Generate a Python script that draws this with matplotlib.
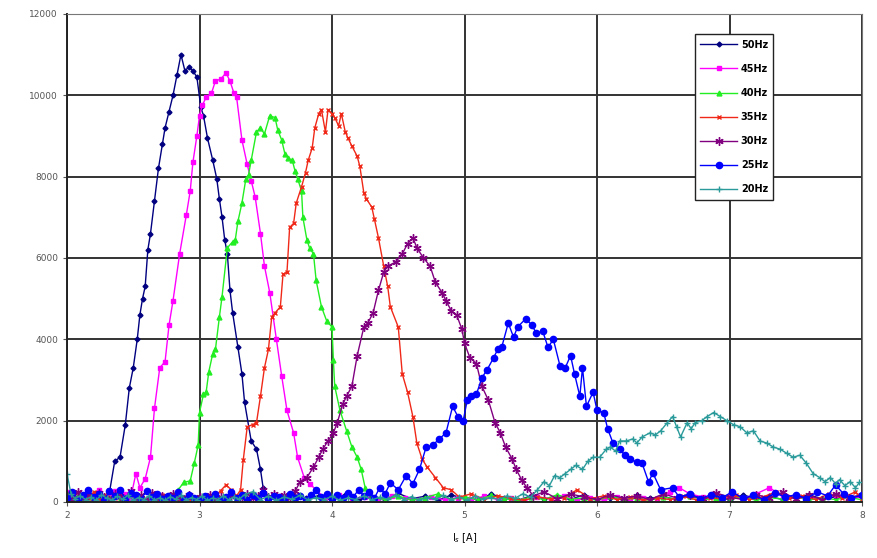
import matplotlib.pyplot as plt

# ==========================================
# data (x = current [A], y = counts)
# ==========================================
labels = ['50Hz', '45Hz', '40Hz', '35Hz', '30Hz', '25Hz', '20Hz']
colors = ['#000080', '#FF00FF', '#22EE22', '#F02818', '#800080', '#0000FF', '#2A9A9A']

pts_50 = [(2.00, 150), (2.04, 60), (2.08, 220), (2.12, 110), (2.16, 260), (2.20, 90), (2.24, 180),
          (2.28, 70), (2.32, 230), (2.36, 1000), (2.40, 1100), (2.44, 1900), (2.47, 2800), (2.50, 3300),
          (2.53, 4000), (2.55, 4600), (2.57, 5000), (2.59, 5300), (2.61, 6200), (2.63, 6600), (2.66, 7400),
          (2.69, 8200), (2.72, 8800), (2.74, 9200), (2.77, 9600), (2.80, 10000), (2.83, 10500),
          (2.86, 11000), (2.89, 10600), (2.92, 10700), (2.95, 10600), (2.98, 10450), (3.01, 9700),
          (3.03, 9500), (3.06, 8950), (3.10, 8400), (3.13, 7950), (3.15, 7450), (3.17, 7000),
          (3.19, 6450), (3.21, 6100), (3.23, 5200), (3.25, 4650), (3.29, 3800), (3.32, 3150),
          (3.34, 2450), (3.39, 1500), (3.43, 1300), (3.46, 800), (3.48, 350), (3.52, 120), (3.60, 60),
          (3.70, 200), (3.80, 90), (3.90, 150), (4.00, 40), (4.10, 180), (4.20, 70), (4.30, 130),
          (4.40, 60), (4.50, 210), (4.60, 80), (4.70, 140), (4.80, 50), (4.90, 170), (5.00, 90),
          (5.10, 60), (5.20, 190), (5.30, 100), (5.40, 40), (5.50, 150), (5.60, 80), (5.70, 120),
          (5.80, 60), (5.90, 180), (6.00, 70), (6.10, 110), (6.20, 50), (6.30, 160), (6.40, 90),
          (6.50, 130), (6.60, 60), (6.70, 200), (6.80, 80), (6.90, 120), (7.00, 50), (7.10, 170),
          (7.20, 90), (7.30, 140), (7.40, 60), (7.50, 110), (7.60, 180), (7.70, 70), (7.80, 130),
          (7.90, 90), (8.00, 150)]

pts_45 = [(2.00, 250), (2.04, 100), (2.08, 180), (2.12, 60), (2.16, 220), (2.20, 130), (2.24, 300),
          (2.28, 80), (2.32, 170), (2.36, 260), (2.40, 120), (2.44, 200), (2.48, 90), (2.52, 700),
          (2.55, 350), (2.59, 570), (2.63, 1100), (2.66, 2300), (2.70, 3300), (2.74, 3450), (2.77, 4350),
          (2.80, 4950), (2.85, 6100), (2.90, 7050), (2.93, 7650), (2.95, 8350), (2.98, 9000),
          (3.00, 9500), (3.02, 9750), (3.05, 9950), (3.09, 10050), (3.12, 10350), (3.16, 10400),
          (3.20, 10550), (3.23, 10350), (3.26, 10050), (3.28, 9950), (3.32, 8900), (3.36, 8300),
          (3.39, 7900), (3.42, 7500), (3.46, 6600), (3.49, 5800), (3.53, 5150), (3.58, 4000),
          (3.62, 3100), (3.66, 2250), (3.71, 1700), (3.74, 1100), (3.79, 600), (3.83, 450), (3.88, 300),
          (3.95, 80), (4.05, 160), (4.15, 60), (4.25, 120), (4.35, 40), (4.45, 150), (4.55, 90),
          (4.65, 60), (4.75, 130), (4.85, 50), (4.95, 110), (5.05, 70), (5.15, 140), (5.25, 60),
          (5.35, 100), (5.45, 40), (5.55, 120), (5.65, 80), (5.75, 150), (5.85, 60), (5.95, 110),
          (6.05, 40), (6.15, 130), (6.25, 80), (6.35, 100), (6.45, 60), (6.55, 250), (6.62, 350),
          (6.70, 200), (6.80, 120), (6.90, 60), (7.00, 140), (7.10, 80), (7.20, 200), (7.30, 350),
          (7.40, 150), (7.50, 90), (7.60, 130), (7.70, 60), (7.80, 170), (7.90, 80), (8.00, 120)]

pts_40 = [(2.00, 200), (2.04, 80), (2.08, 150), (2.12, 40), (2.16, 120), (2.20, 220), (2.24, 60),
          (2.28, 140), (2.32, 90), (2.36, 180), (2.40, 50), (2.44, 110), (2.48, 200), (2.52, 70),
          (2.56, 130), (2.60, 60), (2.64, 160), (2.68, 90), (2.72, 140), (2.76, 60), (2.80, 180),
          (2.84, 300), (2.88, 480), (2.93, 520), (2.96, 950), (2.99, 1400), (3.00, 2200), (3.03, 2650),
          (3.05, 2700), (3.07, 3200), (3.10, 3650), (3.12, 3750), (3.15, 4550), (3.17, 5050),
          (3.21, 6250), (3.25, 6400), (3.27, 6450), (3.29, 6900), (3.32, 7350), (3.35, 7950),
          (3.37, 8050), (3.39, 8400), (3.43, 9100), (3.46, 9200), (3.49, 9050), (3.53, 9500),
          (3.57, 9450), (3.59, 9150), (3.62, 8900), (3.645, 8550), (3.67, 8450), (3.70, 8400),
          (3.72, 8150), (3.74, 7950), (3.77, 7650), (3.78, 7000), (3.81, 6450), (3.83, 6250),
          (3.86, 6100), (3.88, 5450), (3.92, 4800), (3.96, 4450), (4.00, 4300), (4.01, 3500),
          (4.02, 2850), (4.06, 2250), (4.11, 1750), (4.15, 1350), (4.19, 1100), (4.22, 800),
          (4.25, 350), (4.30, 120), (4.40, 60), (4.50, 150), (4.60, 40), (4.70, 100), (4.80, 200),
          (4.90, 60), (5.00, 130), (5.10, 50), (5.20, 160), (5.30, 80), (5.40, 40), (5.50, 120),
          (5.60, 60), (5.70, 180), (5.80, 70), (5.90, 100), (6.00, 40), (6.10, 140), (6.20, 60),
          (6.30, 90), (6.40, 40), (6.50, 120), (6.60, 70), (6.70, 150), (6.80, 50), (6.90, 100),
          (7.00, 60), (7.10, 130), (7.20, 40), (7.30, 110), (7.40, 70), (7.50, 140), (7.60, 50),
          (7.70, 100), (7.80, 60), (7.90, 120), (8.00, 50)]

pts_35 = [(2.00, 120), (2.04, 200), (2.08, 60), (2.12, 150), (2.16, 90), (2.20, 240), (2.24, 70),
          (2.28, 130), (2.32, 300), (2.36, 100), (2.40, 180), (2.44, 60), (2.48, 220), (2.52, 90),
          (2.56, 150), (2.60, 50), (2.64, 120), (2.68, 80), (2.72, 160), (2.76, 60), (2.80, 110),
          (2.84, 40), (2.88, 130), (2.92, 70), (2.96, 100), (3.00, 50), (3.04, 120), (3.08, 60),
          (3.12, 150), (3.16, 280), (3.20, 420), (3.24, 300), (3.28, 150), (3.31, 300), (3.33, 1030),
          (3.36, 1850), (3.40, 1900), (3.43, 1950), (3.46, 2600), (3.49, 3300), (3.52, 3750),
          (3.545, 4550), (3.57, 4650), (3.61, 4800), (3.63, 5600), (3.66, 5650), (3.68, 6750),
          (3.71, 6850), (3.73, 7350), (3.77, 7750), (3.80, 8100), (3.82, 8400), (3.85, 8700),
          (3.87, 9200), (3.90, 9550), (3.92, 9650), (3.95, 9100), (3.97, 9650), (4.00, 9550),
          (4.02, 9450), (4.05, 9250), (4.07, 9550), (4.10, 9100), (4.12, 8950), (4.15, 8750),
          (4.19, 8500), (4.21, 8250), (4.24, 7600), (4.26, 7450), (4.30, 7250), (4.32, 6950),
          (4.35, 6500), (4.39, 5800), (4.42, 5300), (4.44, 4800), (4.50, 4300), (4.53, 3150),
          (4.57, 2700), (4.61, 2100), (4.64, 1450), (4.68, 1050), (4.72, 850), (4.78, 600),
          (4.84, 350), (4.90, 300), (4.96, 120), (5.05, 200), (5.15, 60), (5.25, 150), (5.35, 90),
          (5.45, 40), (5.55, 130), (5.65, 70), (5.75, 110), (5.85, 300), (5.95, 80), (6.05, 150),
          (6.15, 60), (6.25, 120), (6.35, 40), (6.45, 100), (6.55, 60), (6.65, 140), (6.75, 50),
          (6.85, 110), (6.95, 70), (7.05, 160), (7.15, 60), (7.25, 120), (7.35, 250), (7.45, 90),
          (7.55, 150), (7.65, 60), (7.75, 200), (7.85, 100), (7.95, 250), (8.00, 80)]

pts_30 = [(2.00, 180), (2.04, 60), (2.08, 250), (2.12, 100), (2.16, 170), (2.20, 80), (2.24, 220),
          (2.28, 120), (2.32, 60), (2.36, 200), (2.40, 140), (2.44, 80), (2.48, 260), (2.52, 100),
          (2.56, 170), (2.60, 50), (2.64, 210), (2.68, 90), (2.72, 150), (2.76, 60), (2.80, 190),
          (2.84, 100), (2.88, 70), (2.92, 160), (2.96, 40), (3.00, 120), (3.04, 80), (3.08, 170),
          (3.12, 60), (3.16, 130), (3.20, 90), (3.24, 150), (3.28, 60), (3.32, 110), (3.36, 200),
          (3.40, 90), (3.44, 150), (3.48, 300), (3.52, 120), (3.56, 200), (3.60, 80), (3.64, 160),
          (3.68, 100), (3.72, 260), (3.76, 500), (3.81, 600), (3.86, 860), (3.90, 1100), (3.93, 1300),
          (3.97, 1500), (4.01, 1700), (4.04, 1950), (4.08, 2400), (4.11, 2600), (4.15, 2850),
          (4.19, 3600), (4.24, 4300), (4.27, 4400), (4.31, 4650), (4.35, 5200), (4.39, 5650),
          (4.42, 5800), (4.48, 5900), (4.53, 6100), (4.57, 6350), (4.61, 6500), (4.64, 6250),
          (4.69, 6000), (4.74, 5800), (4.78, 5400), (4.83, 5150), (4.86, 4950), (4.90, 4700),
          (4.94, 4600), (4.98, 4250), (5.00, 3900), (5.04, 3550), (5.09, 3400), (5.13, 2850),
          (5.18, 2500), (5.23, 1950), (5.27, 1700), (5.31, 1350), (5.36, 1050), (5.39, 800),
          (5.43, 550), (5.47, 350), (5.52, 150), (5.60, 250), (5.70, 80), (5.80, 200), (5.90, 120),
          (6.00, 60), (6.10, 180), (6.20, 90), (6.30, 150), (6.40, 60), (6.50, 200), (6.60, 100),
          (6.70, 160), (6.80, 70), (6.90, 220), (7.00, 120), (7.10, 60), (7.20, 180), (7.30, 100),
          (7.40, 240), (7.50, 80), (7.60, 160), (7.70, 60), (7.80, 200), (7.90, 110), (8.00, 180)]

pts_25 = [(2.00, 100), (2.04, 250), (2.08, 60), (2.12, 180), (2.16, 300), (2.20, 120), (2.24, 200),
          (2.28, 60), (2.32, 260), (2.36, 140), (2.40, 300), (2.44, 80), (2.48, 220), (2.52, 160),
          (2.56, 60), (2.60, 280), (2.64, 120), (2.68, 200), (2.72, 70), (2.76, 150), (2.80, 100),
          (2.84, 240), (2.88, 60), (2.92, 170), (2.96, 90), (3.00, 40), (3.04, 140), (3.08, 80),
          (3.12, 200), (3.16, 60), (3.20, 120), (3.24, 250), (3.28, 90), (3.32, 160), (3.36, 60),
          (3.40, 180), (3.44, 100), (3.48, 220), (3.52, 70), (3.56, 150), (3.60, 120), (3.64, 60),
          (3.68, 200), (3.72, 100), (3.76, 140), (3.80, 60), (3.84, 170), (3.88, 300), (3.92, 120),
          (3.96, 200), (4.00, 80), (4.04, 160), (4.08, 90), (4.12, 220), (4.16, 120), (4.20, 300),
          (4.24, 150), (4.28, 250), (4.32, 100), (4.36, 350), (4.40, 200), (4.44, 470), (4.50, 300),
          (4.56, 650), (4.61, 450), (4.66, 800), (4.71, 1350), (4.76, 1400), (4.81, 1550),
          (4.86, 1700), (4.91, 2350), (4.95, 2100), (4.99, 2000), (5.02, 2500), (5.05, 2600),
          (5.09, 2650), (5.13, 3050), (5.17, 3250), (5.22, 3550), (5.25, 3750), (5.28, 3800),
          (5.33, 4400), (5.37, 4050), (5.40, 4300), (5.46, 4500), (5.51, 4350), (5.54, 4150),
          (5.59, 4200), (5.63, 3800), (5.67, 4000), (5.72, 3350), (5.76, 3300), (5.80, 3600),
          (5.83, 3150), (5.87, 2600), (5.89, 3300), (5.92, 2350), (5.97, 2700), (6.00, 2250),
          (6.05, 2200), (6.08, 1800), (6.12, 1450), (6.17, 1300), (6.21, 1150), (6.25, 1050),
          (6.30, 980), (6.34, 950), (6.39, 480), (6.42, 720), (6.48, 300), (6.57, 350), (6.62, 120),
          (6.70, 200), (6.78, 80), (6.86, 180), (6.94, 100), (7.02, 250), (7.10, 90), (7.18, 160),
          (7.26, 60), (7.34, 220), (7.42, 120), (7.50, 180), (7.58, 80), (7.66, 250), (7.74, 150),
          (7.80, 420), (7.86, 200), (7.92, 100), (8.00, 160)]

pts_20 = [(2.00, 700), (2.03, 200), (2.06, 80), (2.10, 150), (2.14, 60), (2.18, 120), (2.22, 40),
          (2.26, 180), (2.30, 90), (2.34, 50), (2.38, 140), (2.42, 70), (2.46, 160), (2.50, 40),
          (2.54, 110), (2.58, 60), (2.62, 150), (2.66, 50), (2.70, 100), (2.74, 40), (2.78, 130),
          (2.82, 70), (2.86, 160), (2.90, 50), (2.94, 110), (2.98, 60), (3.02, 140), (3.06, 40),
          (3.10, 100), (3.14, 60), (3.18, 150), (3.22, 50), (3.26, 120), (3.30, 70), (3.34, 180),
          (3.40, 250), (3.46, 60), (3.52, 140), (3.58, 40), (3.64, 120), (3.70, 70), (3.76, 160),
          (3.82, 50), (3.88, 110), (3.94, 60), (4.00, 140), (4.06, 40), (4.12, 100), (4.18, 60),
          (4.24, 150), (4.30, 50), (4.36, 120), (4.42, 70), (4.48, 180), (4.54, 60), (4.60, 130),
          (4.66, 50), (4.72, 110), (4.78, 70), (4.84, 160), (4.90, 60), (4.96, 120), (5.02, 40),
          (5.08, 140), (5.14, 70), (5.20, 110), (5.26, 60), (5.32, 150), (5.38, 90), (5.44, 200),
          (5.50, 120), (5.55, 300), (5.60, 500), (5.64, 400), (5.68, 650), (5.72, 600), (5.76, 700),
          (5.80, 800), (5.84, 900), (5.89, 800), (5.93, 1000), (5.97, 1100), (6.02, 1100),
          (6.07, 1300), (6.10, 1350), (6.14, 1250), (6.17, 1500), (6.22, 1500), (6.27, 1550),
          (6.30, 1450), (6.34, 1600), (6.40, 1700), (6.44, 1650), (6.48, 1750), (6.53, 1950),
          (6.57, 2100), (6.60, 1850), (6.63, 1600), (6.68, 1950), (6.71, 1800), (6.74, 1950),
          (6.79, 2000), (6.83, 2100), (6.88, 2200), (6.93, 2100), (6.98, 2000), (7.03, 1900),
          (7.08, 1850), (7.13, 1700), (7.18, 1750), (7.23, 1500), (7.28, 1450), (7.33, 1350),
          (7.38, 1300), (7.43, 1200), (7.48, 1100), (7.53, 1150), (7.58, 950), (7.63, 700),
          (7.68, 600), (7.72, 500), (7.76, 600), (7.80, 450), (7.83, 550), (7.87, 400), (7.91, 500),
          (7.95, 350), (7.98, 480)]

series = [pts_50, pts_45, pts_40, pts_35, pts_30, pts_25, pts_20]
# Excel default marker order: diamond, square, triangle, x, star, circle, plus
markers = ['D', 's', '^', 'x', (6, 2, 0), 'o', '+']
msizes = [2.5, 2.5, 3.5, 3, 6, 4.5, 5]

x_ticks = [2, 3, 4, 5, 6, 7, 8]
y_ticks = [0, 2000, 4000, 6000, 8000, 10000, 12000]

# ==========================================
# plot
# ==========================================
fig = plt.figure(figsize=(8.77, 5.58), dpi=100)
ax = fig.add_axes([0.0764, 0.1004, 0.9066, 0.8746])

for pts, lab, col, mk, ms in zip(series, labels, colors, markers, msizes):
    xs = [p[0] for p in pts]
    ys = [p[1] for p in pts]
    ax.plot(xs, ys, color=col, marker=mk, markersize=ms, linewidth=1.0,
            markeredgewidth=1.0, label=lab)

ax.set_xlim(2, 8)
ax.set_ylim(0, 12000)
ax.set_xticks(x_ticks)
ax.set_yticks(y_ticks)
ax.tick_params(labelsize=6.5, colors='#555555', length=3)
ax.grid(True, color='#333333', linewidth=1.4)
ax.set_axisbelow(True)
for s in ['top', 'right']:
    ax.spines[s].set_color('#777777')
for s in ['left', 'bottom']:
    ax.spines[s].set_color('#222222')
    ax.spines[s].set_linewidth(1.4)

ax.set_xlabel('I$_s$ [A]', fontsize=7, labelpad=8)

leg = ax.legend(loc='upper left', bbox_to_anchor=(0.79, 0.958), fontsize=7,
                frameon=True, fancybox=False, framealpha=1, edgecolor='#222222',
                handlelength=3.8, borderpad=0.55, labelspacing=1.45, handletextpad=0.35,
                borderaxespad=0)
leg.get_frame().set_linewidth(1.0)
for t in leg.get_texts():
    t.set_fontweight('bold')

fig.savefig('out.png', dpi=100)
